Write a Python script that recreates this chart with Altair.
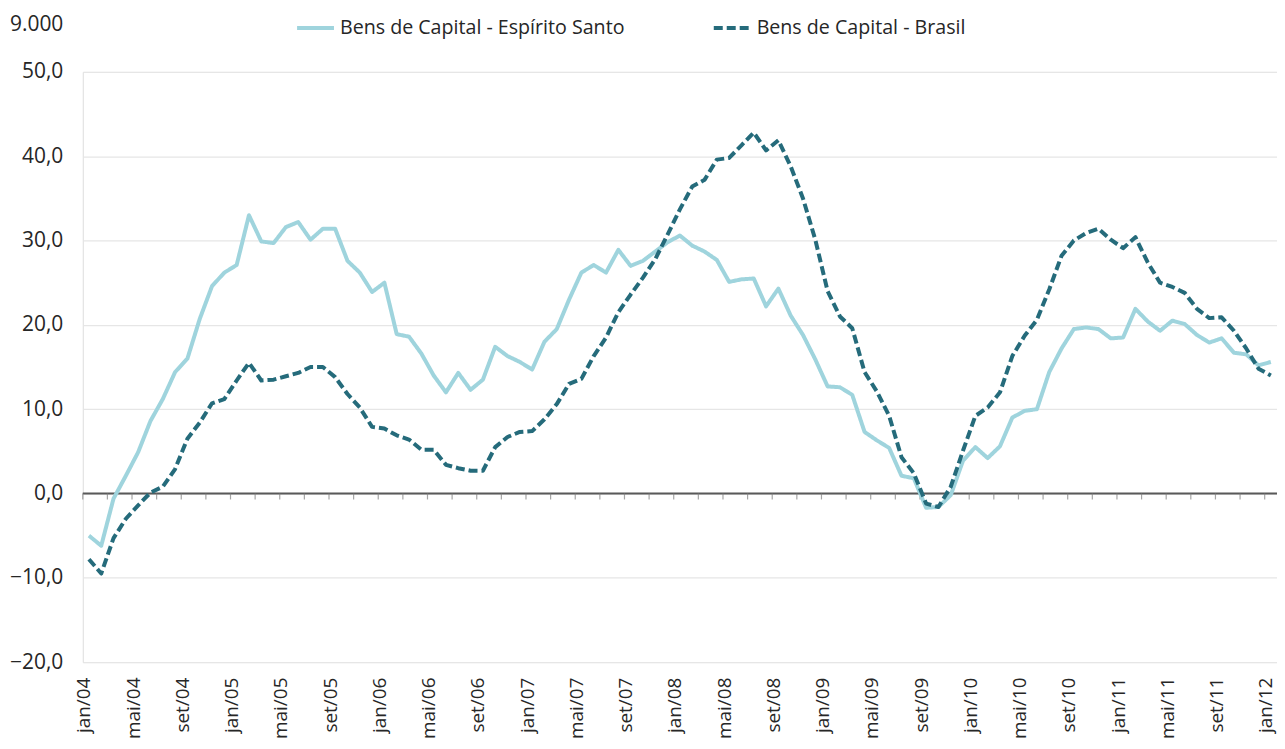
import altair as alt
import pandas as pd

meses = ['jan', 'fev', 'mar', 'abr', 'mai', 'jun', 'jul', 'ago', 'set', 'out', 'nov', 'dez']
rotulos = [f"{meses[i % 12]}/{4 + i // 12:02d}" for i in range(97)]

serie_es = [
    -5.0, -6.2, -0.6, 2.1, 4.9, 8.6, 11.2, 14.4, 16.0, 20.7,
    24.6, 26.2, 27.1, 33.0, 29.9, 29.7, 31.6, 32.2, 30.1, 31.4,
    31.4, 27.6, 26.2, 23.9, 25.0, 18.9, 18.6, 16.6, 14.0, 12.0,
    14.3, 12.3, 13.5, 17.4, 16.3, 15.6, 14.7, 18.0, 19.5, 23.0,
    26.2, 27.1, 26.2, 28.9, 27.0, 27.6, 28.7, 29.8, 30.6, 29.4,
    28.7, 27.7, 25.1, 25.4, 25.5, 22.2, 24.3, 21.1, 18.8, 15.9,
    12.7, 12.6, 11.7, 7.3, 6.3, 5.4, 2.1, 1.8, -1.7, -1.6,
    -0.2, 3.9, 5.5, 4.2, 5.6, 9.0, 9.8, 10.0, 14.4, 17.2,
    19.5, 19.7, 19.5, 18.4, 18.5, 21.9, 20.4, 19.3, 20.5, 20.1,
    18.8, 17.9, 18.4, 16.7, 16.5, 15.2, 15.6,
]
serie_br = [
    -7.8, -9.5, -5.3, -3.0, -1.4, 0.1, 0.8, 2.9, 6.5, 8.4,
    10.7, 11.2, 13.4, 15.5, 13.4, 13.5, 13.9, 14.3, 15.0, 15.0,
    13.8, 11.8, 10.2, 7.9, 7.7, 6.9, 6.4, 5.2, 5.2, 3.4,
    3.0, 2.7, 2.7, 5.5, 6.7, 7.3, 7.4, 8.8, 10.6, 13.0,
    13.6, 16.3, 18.5, 21.5, 23.6, 25.6, 27.8, 30.7, 33.7, 36.4,
    37.2, 39.6, 39.8, 41.3, 42.8, 40.7, 41.9, 38.8, 35.0, 30.1,
    24.0, 21.0, 19.6, 14.4, 12.1, 9.2, 4.3, 2.4, -1.2, -1.6,
    0.8, 5.1, 9.2, 10.2, 12.0, 16.3, 18.7, 20.6, 24.2, 28.2,
    30.0, 30.9, 31.4, 30.1, 29.1, 30.4, 27.4, 25.0, 24.5, 23.8,
    21.9, 20.8, 20.9, 19.3, 17.2, 14.8, 14.0,
]

nome_es = 'Bens de Capital - Espírito Santo'
nome_br = 'Bens de Capital - Brasil'
cor_es = '#9fd4dd'
cor_br = '#256b7b'

linhas = pd.DataFrame({
    'i': list(range(97)) * 2,
    'mes': rotulos * 2,
    'serie': [nome_es] * 97 + [nome_br] * 97,
    'valor': serie_es + serie_br,
})

marcas = pd.DataFrame({'b': [k - 0.5 for k in range(0, 97, 2)], 'z': 0})
zero = pd.DataFrame({'v': [0]})

fonte = 'Open Sans'
rot_idx = list(range(0, 97, 4))
label_expr = '[' + ','.join("'" + rotulos[k] + "'" for k in rot_idx) + '][datum.value / 4]'

xscale = alt.Scale(domain=[-0.5, 96.5], nice=False, zero=False)
yscale = alt.Scale(domain=[-20, 50], nice=False)

leg = alt.Legend(title=None, orient='none', direction='horizontal',
                 legendX=213, legendY=-65, symbolType='stroke',
                 symbolSize=1369, symbolStrokeWidth=4, labelFontSize=19.7,
                 labelFont=fonte, labelColor='#262626', labelOffset=4,
                 columnPadding=81, padding=0, labelLimit=500)

base_lines = alt.Chart(linhas).mark_line(strokeWidth=4, strokeJoin='round').encode(
    x=alt.X('i:Q', scale=xscale, title=None,
            axis=alt.Axis(values=rot_idx, labelExpr=label_expr, labelAngle=-90,
                          domain=False, ticks=False, tickSize=0, grid=False,
                          labelPadding=15, labelFontSize=19, labelFont=fonte,
                          labelColor='#262626', labelOffset=-5)),
    y=alt.Y('valor:Q', scale=yscale, title='9.000',
            axis=alt.Axis(values=list(range(-20, 51, 10)),
                          labelExpr="replace(format(datum.value, '.1f'), '.', ',')",
                          domain=False, ticks=False, tickSize=0, labelPadding=20,
                          labelFontSize=21, labelFont=fonte, labelColor='#262626',
                          grid=True, gridColor='#e6e6e6', gridWidth=1.3,
                          titleAngle=0, titleAlign='right', titleBaseline='middle',
                          titleX=-20, titleY=-48, titleFontSize=21, titleFont=fonte,
                          titleFontWeight='normal', titleColor='#262626')),
    color=alt.Color('serie:N', scale=alt.Scale(domain=[nome_es, nome_br], range=[cor_es, cor_br]),
                    legend=leg),
    strokeDash=alt.StrokeDash('serie:N', scale=alt.Scale(domain=[nome_es, nome_br], range=[[1, 0], [9, 4]]),
                              legend=leg),
    order=alt.Order('i:Q'),
)

zero_line = alt.Chart(zero).mark_rule(color='#595959', strokeWidth=1.8).encode(
    y=alt.Y('v:Q', scale=yscale)
)

ticks = alt.Chart(marcas).mark_tick(color='#7f7f7f', size=6, thickness=1.2, orient='vertical', yOffset=3).encode(
    x=alt.X('b:Q', scale=xscale),
    y=alt.Y('z:Q', scale=yscale),
)

chart = alt.layer(zero_line, ticks, base_lines).properties(
    width=1198,
    height=592,
    autosize=alt.AutoSizeParams(type='none'),
    padding={'left': 75, 'top': 63, 'right': 0, 'bottom': 78},
).configure_view(stroke=None).configure(background='white')

chart.save('out.html', embed_options={'renderer': 'svg', 'actions': False})
